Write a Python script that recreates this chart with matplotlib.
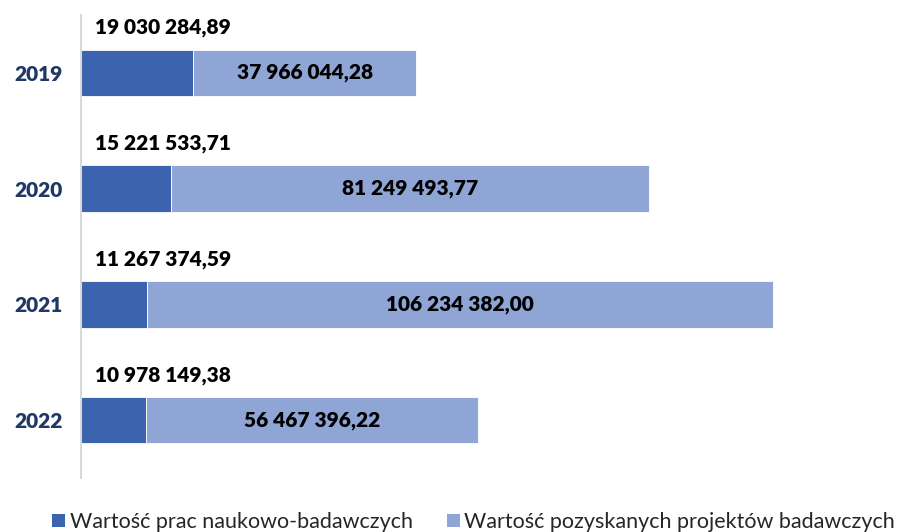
import numpy as np
import matplotlib.pyplot as plt
from matplotlib.patches import Patch

# ------------------------------------------------------
# DATA
# ------------------------------------------------------
years = ['2019', '2020', '2021', '2022']
prace = [19030284.89, 15221533.71, 11267374.59, 10978149.38]
projekty = [37966044.28, 81249493.77, 106234382.00, 56467396.22]
series_names = ['Wartość prac naukowo-badawczych',
                'Wartość pozyskanych projektów badawczych']

def fmt_pl(v):
    s = '{:,.2f}'.format(v)
    return s.replace(',', ' ').replace('.', ',')

# ------------------------------------------------------
# PLOT
# ------------------------------------------------------
plt.rcParams['font.family'] = ['Lato', 'DejaVu Sans']

dark = '#3C63AD'
light = '#8FA5D5'
bw = 'heavy'

fig = plt.figure(figsize=(8.99, 5.32), dpi=100)
ax = fig.add_axes([81/899, 1 - 478/532, 799/899, 463/532])

y = np.arange(len(years))
p = np.array(prace) / 1e6
q = np.array(projekty) / 1e6

ax.barh(y, p, height=0.4, color=dark, edgecolor='white', linewidth=0.6)
ax.barh(y, q, left=p, height=0.4, color=light, edgecolor='white', linewidth=0.6)

for i in range(len(years)):
    ax.annotate(fmt_pl(prace[i]), xy=(0, y[i]), xytext=(14, 45),
                textcoords='offset pixels', ha='left', va='center',
                fontsize=15, fontweight=bw, color='black')
    ax.text(p[i] + q[i] / 2, y[i], fmt_pl(projekty[i]), ha='center', va='center',
            fontsize=15, fontweight=bw, color='black')

ax.set_xlim(0, 799 / 5.886)
ax.set_ylim(3.5, -0.5)
ax.set_yticks(y)
ax.set_yticklabels(years, fontsize=15, fontweight=bw, color='#1F3864')
ax.tick_params(axis='y', length=0, pad=13)
ax.set_xticks([])

for s in ['top', 'right', 'bottom']:
    ax.spines[s].set_visible(False)
ax.spines['left'].set_color('#D9D9D9')
ax.spines['left'].set_linewidth(1.5)

handles = [Patch(facecolor=dark), Patch(facecolor=light)]
fig.legend(handles, series_names, loc='center', bbox_to_anchor=(0.527, 1 - 522/532),
           ncol=2, frameon=False, fontsize=15.5, handlelength=0.6, handleheight=0.6,
           handletextpad=0.2, columnspacing=1.6, labelcolor='#262626')

fig.savefig('out.png', dpi=100)
